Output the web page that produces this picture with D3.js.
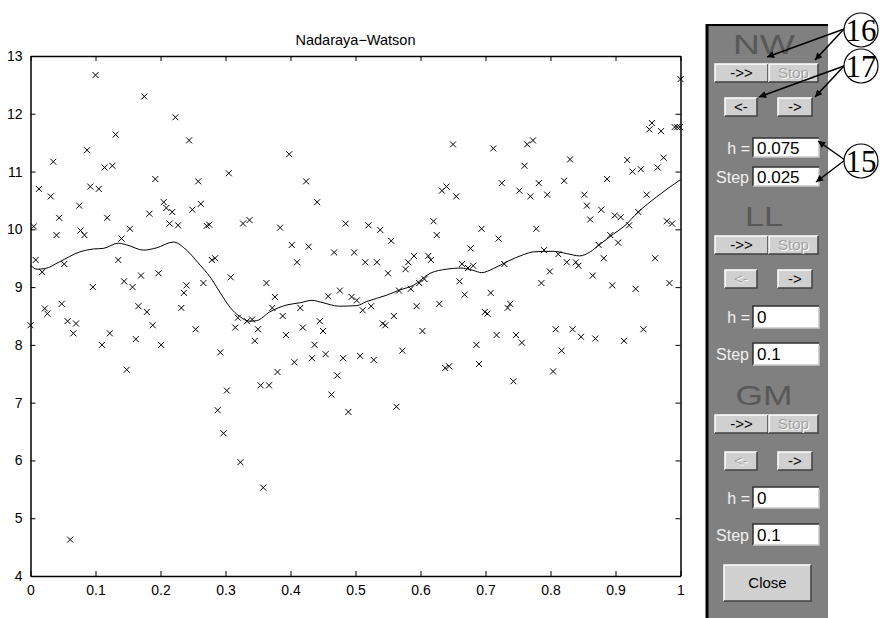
<!DOCTYPE html>
<html>
<head>
<meta charset="utf-8">
<script src="https://cdn.jsdelivr.net/npm/d3@7"></script>
<style>
  body { margin: 0; background: white; }
  text { font-family: Arial, "Liberation Sans", Helvetica, sans-serif; }
</style>
</head>
<body>
<div class="chart"></div>
<script>

// scatter points
var xs = [0.005, 0.1, 0.013, 0.031, 0.035, 0.044, 0.075, 0.087, 0.092, 0.105, 0.114, 0.126, 0.131, 0.118, 0.153, 0.175,
  0.183, 0.192, 0.205, 0.209, 0.218, 0.214, 0.227, 0.223, 0.244, 0.258, 0.249, 0.262, 0.271, 0.275, 0.305, 0.077,
  0.398, 0.424, 0.441, 0.327, 0.337, 0.384, 0.485, 0.520, 0.538, 0.620, 0.633, 0.640, 1.0, 0.650, 0.712, 0.764,
  0.773, 0.760, 0.830, 0.655, 0.725, 0.752, 0.769, 0.782, 0.795, 0.821, 0.694, 0.778, 0.852, 0.856, 0.878, 0.861,
  0.887, 0.899, 0.908, 0.921, 0.935, 0.948, 0.918, 0.926, 0.939, 0.965, 0.974, 0.952, 0.956, 0.970, 0.991, 0.995,
  0.999, 0.979, 0.987, 0.0, 0.008, 0.018, 0.022, 0.026, 0.040, 0.048, 0.052, 0.057, 0.070, 0.066, 0.083, 0.096,
  0.110, 0.122, 0.135, 0.140, 0.144, 0.157, 0.148, 0.162, 0.166, 0.179, 0.170, 0.188, 0.197, 0.201, 0.232, 0.236,
  0.240, 0.254, 0.266, 0.279, 0.284, 0.292, 0.302, 0.288, 0.308, 0.297, 0.061, 0.489, 0.563, 0.323, 0.358, 0.625,
  0.555, 0.402, 0.428, 0.410, 0.467, 0.498, 0.515, 0.533, 0.550, 0.577, 0.581, 0.590, 0.612, 0.616, 0.363, 0.376,
  0.372, 0.319, 0.333, 0.341, 0.315, 0.350, 0.345, 0.388, 0.415, 0.393, 0.419, 0.445, 0.450, 0.458, 0.476, 0.494,
  0.502, 0.511, 0.524, 0.567, 0.585, 0.598, 0.606, 0.559, 0.542, 0.546, 0.594, 0.629, 0.603, 0.572, 0.437, 0.406,
  0.433, 0.454, 0.481, 0.507, 0.528, 0.380, 0.354, 0.367, 0.472, 0.463, 0.638, 0.644, 0.720, 0.677, 0.664, 0.673,
  0.681, 0.660, 0.668, 0.708, 0.729, 0.699, 0.703, 0.734, 0.738, 0.790, 0.812, 0.799, 0.786, 0.825, 0.839, 0.843,
  0.865, 0.874, 0.892, 0.904, 0.882, 0.895, 0.931, 0.961, 0.983, 0.717, 0.747, 0.756, 0.686, 0.690, 0.743, 0.808,
  0.834, 0.847, 0.869, 0.817, 0.804, 0.913, 0.943];
var ys = [10.05, 12.67, 10.70, 10.57, 11.17, 10.20, 10.41, 11.37, 10.74, 10.70, 11.07, 11.10, 11.64, 10.20, 10.01, 12.30,
  10.27, 10.87, 10.47, 10.37, 10.30, 10.10, 10.07, 11.94, 11.54, 10.83, 10.34, 10.44, 10.06, 10.08, 10.97, 9.98,
  11.30, 10.83, 10.47, 10.10, 10.16, 10.03, 10.10, 10.07, 9.99, 10.14, 10.67, 10.74, 12.60, 11.47, 11.40, 11.47,
  11.54, 11.10, 11.21, 10.57, 10.80, 10.67, 10.57, 10.80, 10.60, 10.84, 10.01, 10.01, 10.60, 10.41, 10.34, 10.17,
  10.87, 10.24, 10.21, 10.07, 10.30, 10.60, 11.20, 11.00, 11.04, 11.07, 11.24, 11.73, 11.84, 11.70, 11.77, 11.77,
  11.77, 10.14, 10.10, 8.34, 9.47, 9.26, 8.63, 8.54, 9.90, 8.71, 9.40, 8.41, 8.37, 8.20, 9.90, 9.00,
  8.00, 8.20, 9.47, 9.84, 9.10, 9.00, 7.57, 8.10, 8.67, 8.57, 9.20, 8.34, 9.24, 8.00, 8.64, 8.90,
  9.03, 8.27, 9.07, 9.47, 9.50, 7.87, 7.21, 6.87, 9.17, 6.47, 4.63, 6.84, 6.93, 5.97, 5.53, 9.90,
  9.80, 9.73, 9.70, 9.43, 9.60, 9.60, 9.43, 9.43, 9.24, 9.31, 9.43, 9.54, 9.54, 9.47, 9.07, 8.83,
  8.64, 8.47, 8.41, 8.44, 8.30, 8.27, 8.07, 8.50, 8.64, 8.17, 8.30, 8.41, 8.24, 8.84, 8.94, 8.83,
  8.77, 8.60, 8.67, 8.94, 8.97, 9.07, 9.14, 8.50, 8.37, 8.34, 8.67, 8.71, 8.24, 7.90, 8.00, 7.70,
  7.77, 7.84, 7.77, 7.81, 7.74, 7.53, 7.30, 7.30, 7.47, 7.14, 7.60, 7.63, 9.84, 9.67, 9.40, 9.33,
  9.37, 9.10, 8.87, 8.90, 9.40, 8.57, 8.54, 8.64, 8.71, 9.64, 9.57, 9.27, 9.07, 9.43, 9.43, 9.37,
  9.20, 9.73, 9.90, 9.77, 9.50, 9.03, 8.97, 9.50, 9.07, 8.17, 8.17, 8.04, 8.00, 7.67, 7.37, 8.27,
  8.27, 8.14, 8.11, 7.90, 7.54, 8.07, 8.27];

// smoothed curve (h = 0.075)
var curveX = [0, 0.01, 0.022, 0.045, 0.076, 0.097, 0.112, 0.135, 0.148, 0.174, 0.194, 0.220, 0.240, 0.261, 0.276, 0.292,
  0.307, 0.322, 0.337, 0.348, 0.368, 0.394, 0.415, 0.433, 0.450, 0.474, 0.502, 0.517, 0.548, 0.568, 0.589, 0.615,
  0.640, 0.661, 0.681, 0.694, 0.712, 0.733, 0.758, 0.774, 0.804, 0.825, 0.845, 0.861, 0.876, 0.897, 0.913, 0.935,
  0.963, 1.0];
var curveY = [9.38, 9.31, 9.32, 9.44, 9.61, 9.66, 9.67, 9.76, 9.73, 9.64, 9.68, 9.78, 9.64, 9.38, 9.18, 8.90,
  8.65, 8.49, 8.41, 8.42, 8.57, 8.69, 8.73, 8.77, 8.73, 8.67, 8.68, 8.75, 8.86, 8.95, 9.03, 9.24,
  9.31, 9.33, 9.29, 9.25, 9.32, 9.44, 9.56, 9.61, 9.62, 9.58, 9.54, 9.61, 9.74, 9.92, 10.05, 10.30,
  10.56, 10.86];

var xTicks = [0, 0.1, 0.2, 0.3, 0.4, 0.5, 0.6, 0.7, 0.8, 0.9, 1];
var yTicks = [4, 5, 6, 7, 8, 9, 10, 11, 12, 13];

// control panel texts
var sections = ['NW', 'LL', 'GM'];
var hValues = ['0.075', '0', '0'];
var stepValues = ['0.025', '0.1', '0.1'];
var backEnabled = [true, false, false];

var width = 880,
    height = 618,
    plotLeft = 30.5, plotRight = 680.5,
    plotTop = 56, plotBottom = 576,
    tickLen = 5,
    mark = 3;

var svg = d3.select('.chart').append('svg')
    .attr('width', width)
    .attr('height', height)
    .style('background', 'white');

var x = d3.scaleLinear().domain([0, 1]).range([plotLeft, plotRight]);
var y = d3.scaleLinear().domain([4, 13]).range([plotBottom, plotTop]);

//axes box, ticks pointing inward on all four sides
svg.append('g').attr('transform', 'translate(0,' + plotBottom + ')')
    .call(d3.axisBottom(x).tickValues(xTicks).tickSizeInner(-tickLen).tickSizeOuter(0)
        .tickPadding(9).tickFormat(d3.format('')));
svg.append('g').attr('transform', 'translate(0,' + plotTop + ')')
    .call(d3.axisTop(x).tickValues(xTicks).tickSizeInner(-tickLen).tickSizeOuter(0).tickFormat(''));
svg.append('g').attr('transform', 'translate(' + plotLeft + ',0)')
    .call(d3.axisLeft(y).tickValues(yTicks).tickSizeInner(-tickLen).tickSizeOuter(0).tickPadding(8));
svg.append('g').attr('transform', 'translate(' + plotRight + ',0)')
    .call(d3.axisRight(y).tickValues(yTicks).tickSizeInner(-tickLen).tickSizeOuter(0).tickFormat(''));

svg.selectAll('.domain').attr('stroke', 'black').attr('stroke-width', 1.5);
svg.selectAll('.tick line').attr('stroke', 'black');
svg.selectAll('.tick text').attr('fill', 'black')
    .style('font-size', '14px').style('font-family', 'Arial, "Liberation Sans", sans-serif');

svg.append('text')
    .text('Nadaraya\u2212Watson')
    .attr('x', (plotLeft + plotRight) / 2)
    .attr('y', 45)
    .attr('text-anchor', 'middle')
    .style('font-size', '14.5px')
    .attr('fill', 'black');

//crosses
var pts = xs.map(function(d, i) { return [d, ys[i]]; });
svg.append('g').selectAll('path').data(pts)
    .enter().append('path')
        .attr('d', function(d) {
            var cx = x(d[0]), cy = y(d[1]);
            return 'M' + (cx - mark) + ',' + (cy - mark) + 'L' + (cx + mark) + ',' + (cy + mark) +
                'M' + (cx - mark) + ',' + (cy + mark) + 'L' + (cx + mark) + ',' + (cy - mark);
        })
        .attr('stroke', 'black')
        .attr('stroke-width', 1)
        .attr('fill', 'none');

//smoothed line
var line = d3.line()
    .x(function(d) { return x(d[0]); })
    .y(function(d) { return y(d[1]); })
    .curve(d3.curveMonotoneX);
svg.append('path')
    .datum(curveX.map(function(d, i) { return [d, curveY[i]]; }))
    .attr('d', line)
    .attr('fill', 'none')
    .attr('stroke', 'black')
    .attr('stroke-width', 1);

//control panel
var px = 706, pw = 122;
svg.append('rect').attr('x', px).attr('y', 25).attr('width', pw).attr('height', height - 25).attr('fill', '#808080');
svg.append('line').attr('x1', px + 1).attr('x2', px + 1).attr('y1', 24).attr('y2', height)
    .attr('stroke', 'black').attr('stroke-width', 3);
svg.append('line').attr('x1', px).attr('x2', px + pw).attr('y1', 25).attr('y2', 25)
    .attr('stroke', 'black').attr('stroke-width', 2);

function button(bx, by, bw, bh, label, enabled) {
    var g = svg.append('g');
    g.append('rect').attr('x', bx).attr('y', by).attr('width', bw).attr('height', bh).attr('fill', '#d0d0d0');
    g.append('path').attr('d', 'M' + bx + ',' + (by + bh) + 'V' + by + 'H' + (bx + bw))
        .attr('stroke', 'white').attr('fill', 'none').attr('stroke-width', 1.5);
    g.append('path').attr('d', 'M' + (bx + bw) + ',' + by + 'V' + (by + bh) + 'H' + bx)
        .attr('stroke', '#404040').attr('fill', 'none').attr('stroke-width', 1.5);
    if (!enabled) {
        g.append('text').text(label).attr('x', bx + bw / 2 + 1).attr('y', by + bh / 2 + 6)
            .attr('text-anchor', 'middle').style('font-size', '15px').attr('fill', 'white');
    }
    g.append('text').text(label).attr('x', bx + bw / 2).attr('y', by + bh / 2 + 5)
        .attr('text-anchor', 'middle').style('font-size', '15px')
        .attr('fill', enabled ? 'black' : '#a4a4a4');
}

function editBox(bx, by, bw, bh, value) {
    var g = svg.append('g');
    g.append('rect').attr('x', bx).attr('y', by).attr('width', bw).attr('height', bh).attr('fill', 'white');
    g.append('path').attr('d', 'M' + bx + ',' + (by + bh) + 'V' + by + 'H' + (bx + bw))
        .attr('stroke', '#303030').attr('fill', 'none').attr('stroke-width', 1.5);
    g.append('path').attr('d', 'M' + (bx + bw) + ',' + (by + 2) + 'V' + (by + bh) + 'H' + bx)
        .attr('stroke', '#c8c8c8').attr('fill', 'none').attr('stroke-width', 1.5);
    g.append('text').text(value).attr('x', bx + 4).attr('y', by + bh / 2 + 6)
        .style('font-size', '17px').attr('fill', 'black');
}

var sectionTop = [64, 236, 415];
var titleLen = [62, 38, 57];
var rowGap = [34, 34, 37];
var hTop = [138, 306, 487];
var stepTop = [167, 343, 524];
var boxH = [19, 22, 21];

sections.forEach(function(s, i) {
    var t = sectionTop[i];
    svg.append('text').text(s)
        .attr('x', 733 + (62 - titleLen[i]) / 2)
        .attr('y', t - 10)
        .attr('textLength', titleLen[i])
        .attr('lengthAdjust', 'spacingAndGlyphs')
        .style('font-size', '28px')
        .attr('fill', '#585858');
    button(715, t, 53, 18, '->>', true);
    button(769, t, 49, 18, 'Stop', false);
    button(725, t + rowGap[i], 32, 18, '<-', backEnabled[i]);
    button(778, t + rowGap[i], 34, 18, '->', true);
    svg.append('text').text('h =').attr('x', 750).attr('y', hTop[i] + boxH[i] / 2 + 6)
        .attr('text-anchor', 'end').style('font-size', '16px').attr('fill', '#f0f0f0');
    editBox(753, hTop[i], 66, boxH[i], hValues[i]);
    svg.append('text').text('Step').attr('x', 749).attr('y', stepTop[i] + boxH[i] / 2 + 6)
        .attr('text-anchor', 'end').style('font-size', '16px').attr('fill', '#f0f0f0');
    editBox(753, stepTop[i], 66, boxH[i], stepValues[i]);
});

button(724, 565, 87, 36, 'Close', true);

//annotation circles and arrows
var defs = svg.append('defs');
defs.append('marker').attr('id', 'arrow')
    .attr('viewBox', '0 0 10 10').attr('refX', 10).attr('refY', 5)
    .attr('markerWidth', 9).attr('markerHeight', 7).attr('markerUnits', 'userSpaceOnUse')
    .attr('orient', 'auto')
    .append('path').attr('d', 'M0,0L10,5L0,10z').attr('fill', 'black');

var callouts = [
    {label: '16', cx: 861, cy: 30, from: [844, 29], to: [[767, 57], [815, 60]]},
    {label: '17', cx: 861, cy: 66, from: [844, 66], to: [[759, 97], [815, 97]]},
    {label: '15', cx: 861, cy: 161, from: [845, 160], to: [[818, 141], [816, 182]]}
];

callouts.forEach(function(c) {
    c.to.forEach(function(p) {
        svg.append('line')
            .attr('x1', c.from[0]).attr('y1', c.from[1])
            .attr('x2', p[0]).attr('y2', p[1])
            .attr('stroke', 'black').attr('stroke-width', 1.5)
            .attr('marker-end', 'url(#arrow)');
    });
    svg.append('circle').attr('cx', c.cx).attr('cy', c.cy).attr('r', 17)
        .attr('fill', 'white').attr('stroke', 'black').attr('stroke-width', 1.2);
    svg.append('text').text(c.label)
        .attr('x', c.cx).attr('y', c.cy + 11)
        .attr('text-anchor', 'middle')
        .style('font-family', '"Liberation Serif", "DejaVu Serif", serif')
        .style('font-size', '31px')
        .attr('fill', 'black');
});

</script>
</body>
</html>
